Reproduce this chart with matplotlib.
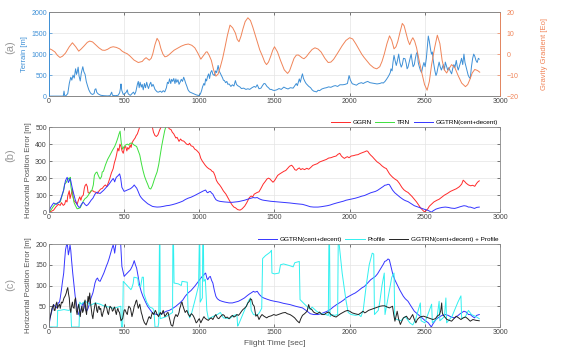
import matplotlib
matplotlib.use("Agg")
import matplotlib.pyplot as plt
import numpy as np

plt.rcParams['font.family'] = ['Liberation Sans', 'DejaVu Sans']

# ---------------- data (time [sec], value) ----------------
terrain = [(0, 0), (50, 0), (95, 0), (100, 120), (104, 20), (110, 0), (125, 60), (135, 300), (145, 450),
           (152, 380), (160, 500), (168, 430), (177, 650), (183, 520), (187, 560), (194, 690), (200, 480),
           (208, 360), (215, 550), (225, 700), (232, 580), (240, 520), (248, 350), (256, 250), (265, 150),
           (275, 80), (281, 55), (290, 40), (300, 60), (306, 160), (312, 175), (318, 90), (325, 60), (333, 40),
           (345, 20), (365, 10), (390, 5), (406, 10), (412, 60), (417, 95), (422, 20), (440, 10), (460, 20),
           (470, 80), (476, 200), (479, 290), (484, 140), (494, 40), (505, 60), (515, 100), (521, 150),
           (526, 60), (535, 30), (542, 20), (552, 60), (562, 95), (570, 40), (578, 110), (583, 200), (588, 280),
           (594, 350), (600, 200), (606, 330), (614, 215), (620, 280), (627, 150), (635, 300), (642, 200),
           (650, 330), (656, 240), (662, 180), (670, 280), (677, 330), (684, 230), (692, 280), (698, 230),
           (705, 160), (712, 130), (720, 100), (729, 95), (740, 120), (750, 90), (760, 130), (770, 100),
           (781, 200), (788, 330), (795, 300), (802, 410), (810, 300), (816, 400), (823, 350), (830, 420),
           (838, 300), (844, 410), (850, 330), (858, 390), (865, 280), (872, 330), (880, 400), (888, 350),
           (896, 450), (903, 380), (910, 300), (917, 235), (925, 150), (935, 100), (948, 80), (960, 60),
           (979, 30), (990, 20), (1000, 15), (1008, 60), (1015, 130), (1021, 215), (1030, 300), (1036, 260),
           (1042, 410), (1048, 360), (1055, 470), (1062, 530), (1068, 420), (1075, 560), (1083, 610),
           (1090, 520), (1100, 490), (1108, 600), (1115, 560), (1125, 730), (1132, 600), (1140, 540),
           (1146, 490), (1155, 430), (1160, 380), (1167, 370), (1175, 320), (1183, 350), (1190, 280),
           (1198, 290), (1210, 230), (1220, 270), (1230, 240), (1240, 370), (1247, 280), (1255, 250),
           (1265, 230), (1271, 215), (1280, 180), (1295, 190), (1310, 160), (1323, 175), (1335, 160),
           (1350, 200), (1365, 230), (1375, 210), (1385, 270), (1397, 175), (1410, 190), (1420, 250),
           (1430, 300), (1438, 295), (1450, 230), (1460, 200), (1470, 160), (1479, 160), (1490, 140),
           (1500, 135), (1515, 150), (1530, 180), (1545, 160), (1562, 215), (1575, 190), (1590, 170),
           (1605, 200), (1624, 190), (1635, 250), (1645, 300), (1652, 250), (1660, 350), (1665, 410),
           (1672, 330), (1680, 460), (1686, 530), (1693, 420), (1702, 350), (1710, 300), (1720, 260),
           (1727, 235), (1740, 200), (1750, 150), (1760, 120), (1769, 110), (1780, 100), (1790, 140),
           (1800, 130), (1815, 170), (1831, 190), (1845, 200), (1860, 220), (1875, 210), (1893, 240),
           (1905, 250), (1920, 230), (1935, 270), (1955, 270), (1970, 280), (1985, 300), (1996, 490),
           (2005, 380), (2017, 295), (2030, 280), (2045, 260), (2060, 300), (2078, 320), (2090, 300),
           (2105, 330), (2120, 350), (2135, 320), (2150, 310), (2165, 300), (2182, 290), (2200, 300),
           (2215, 320), (2223, 310), (2235, 350), (2245, 400), (2254, 450), (2262, 500), (2270, 560),
           (2275, 650), (2282, 600), (2288, 800), (2295, 970), (2302, 850), (2310, 730), (2318, 850),
           (2326, 1000), (2334, 800), (2343, 690), (2350, 750), (2358, 900), (2368, 890), (2376, 780),
           (2382, 650), (2388, 690), (2395, 800), (2402, 900), (2409, 1000), (2416, 820), (2422, 700),
           (2430, 750), (2437, 900), (2443, 1000), (2450, 1050), (2456, 800), (2463, 700), (2471, 610),
           (2478, 560), (2486, 700), (2494, 800), (2502, 700), (2510, 900), (2517, 1200), (2523, 1430),
           (2530, 1300), (2537, 1130), (2544, 1000), (2550, 1050), (2554, 900), (2560, 750), (2567, 600),
           (2574, 490), (2580, 550), (2588, 700), (2595, 810), (2602, 700), (2610, 620), (2616, 680),
           (2623, 750), (2630, 620), (2636, 810), (2645, 700), (2652, 620), (2660, 680), (2668, 600),
           (2678, 530), (2685, 650), (2693, 750), (2700, 680), (2709, 850), (2716, 700), (2722, 620),
           (2729, 700), (2737, 800), (2744, 900), (2752, 750), (2760, 1000), (2767, 800), (2774, 700),
           (2781, 600), (2788, 500), (2795, 450), (2802, 420), (2810, 700), (2818, 900), (2825, 1000),
           (2832, 950), (2840, 850), (2848, 800), (2856, 900), (2862, 880)]

gravity = [(0, 2.7), (20, 2.0), (40, 1.0), (55, -0.5), (73, -1.6), (90, -1.0), (110, 0.5), (135, 3.5),
           (156, 5.4), (178, 3.5), (198, 1.4), (215, 2.5), (235, 4), (255, 5.6), (271, 6.2), (290, 5.8),
           (310, 4.5), (332, 3.0), (354, 1.9), (372, 1.8), (390, 2.3), (410, 3.2), (427, 3.5), (448, 3.2),
           (470, 2.5), (485, 1.5), (500, 0.8), (520, 0.2), (540, -1), (565, -2.8), (594, -4), (620, -3.5),
           (635, -2.3), (646, -1.7), (655, -2.2), (667, -2.9), (680, -2.0), (690, 0), (705, 4.5), (719, 7.5),
           (732, 6.0), (745, 2.5), (758, 0), (771, -1.3), (785, -1.0), (800, -0.2), (815, 0.8), (833, 1.9),
           (855, 2.8), (880, 3.8), (905, 4.5), (927, 4.8), (950, 4.2), (970, 3), (990, 0.5), (1010, -2.4),
           (1030, -0.5), (1045, 1.0), (1052, 1.1), (1065, -0.5), (1080, -3), (1095, -7.5), (1110, -10.5),
           (1125, -9.5), (1140, -6), (1155, -2), (1170, 3), (1187, 9), (1204, 13.8), (1222, 12.5),
           (1240, 10), (1252, 7), (1264, 5.9), (1277, 8.5), (1290, 12), (1305, 15.5), (1323, 17.3),
           (1340, 16), (1355, 13), (1370, 9.5), (1385, 5.9), (1402, 2), (1420, -1), (1435, -3.8),
           (1447, -5), (1460, -3.8), (1475, -1), (1488, 1.8), (1500, 3.5), (1520, 1), (1540, -3),
           (1565, -7.5), (1587, -9.2), (1600, -8), (1615, -5), (1630, -2), (1645, -0.5), (1658, -0.4),
           (1670, -1), (1684, -1.8), (1696, -2.2), (1712, -1.2), (1730, 0.5), (1750, 2.2), (1769, 3),
           (1790, 2.4), (1810, 1), (1835, -2), (1857, -4), (1875, -3.8), (1893, -2.5), (1920, 0.5),
           (1950, 4), (1975, 6.5), (2000, 7.8), (2020, 7.2), (2040, 5), (2060, 2.5), (2080, 0),
           (2095, -1.5), (2112, -3), (2135, -5), (2160, -6.5), (2180, -7), (2200, -6), (2215, -3.5),
           (2230, 0), (2248, 5), (2265, 8.7), (2280, 6.5), (2295, 2.5), (2308, 3.5), (2320, 6), (2335, 10.5),
           (2350, 14.6), (2362, 13.5), (2375, 10), (2388, 6.5), (2399, 4.5), (2410, 6.5), (2420, 7.8),
           (2432, 6.2), (2445, 3), (2462, -3), (2480, -9), (2498, -14.5), (2515, -17.2), (2530, -13),
           (2545, -5), (2565, 3), (2583, 9), (2600, 5), (2615, -3), (2630, -7.5), (2645, -9), (2660, -7),
           (2678, -5), (2700, -6.5), (2720, -10), (2745, -13.8), (2770, -15.5), (2785, -14.5), (2800, -12),
           (2815, -9), (2832, -7.3), (2850, -7.8), (2865, -8.6)]

ggrn = [(0, 0), (15, 5), (31, 12), (45, 30), (62, 46), (75, 40), (83, 56), (95, 40), (104, 46), (112, 70),
        (120, 60), (125, 96), (130, 110), (135, 126), (140, 80), (146, 100), (152, 120), (156, 136),
        (160, 90), (167, 66), (175, 60), (187, 46), (198, 76), (205, 90), (212, 70), (219, 92), (228, 100),
        (235, 140), (240, 156), (248, 165), (255, 150), (260, 116), (270, 110), (280, 125), (292, 126),
        (300, 120), (310, 118), (323, 110), (333, 125), (344, 136), (355, 140), (365, 152), (375, 160),
        (385, 150), (396, 176), (405, 200), (415, 230), (427, 256), (435, 290), (444, 316), (450, 340),
        (458, 376), (465, 360), (472, 400), (479, 386), (486, 360), (494, 346), (502, 380), (510, 386),
        (518, 360), (524, 380), (531, 370), (540, 395), (546, 380), (552, 406), (560, 420), (573, 436),
        (580, 450), (588, 460), (594, 476), (600, 490), (607, 510), (614, 520), (640, 540), (680, 530),
        (695, 470), (705, 450), (715, 445), (725, 455), (735, 480), (745, 500), (755, 520), (775, 520),
        (790, 505), (800, 490), (812, 485), (820, 470), (830, 460), (844, 436), (852, 440), (860, 425),
        (865, 416), (875, 430), (885, 420), (896, 418), (905, 410), (915, 400), (927, 396), (935, 405),
        (945, 390), (958, 386), (970, 370), (980, 365), (990, 356), (1000, 345), (1010, 316), (1020, 300),
        (1031, 286), (1040, 275), (1050, 265), (1062, 256), (1075, 250), (1085, 240), (1094, 236),
        (1104, 215), (1114, 186), (1125, 170), (1135, 160), (1146, 146), (1160, 125), (1177, 106),
        (1190, 85), (1200, 70), (1208, 56), (1220, 40), (1230, 30), (1240, 26), (1255, 15), (1271, 12),
        (1285, 20), (1302, 36), (1315, 55), (1333, 86), (1345, 95), (1355, 90), (1365, 106), (1385, 116),
        (1397, 120), (1410, 140), (1425, 165), (1438, 180), (1450, 195), (1460, 200), (1469, 196),
        (1480, 185), (1490, 176), (1500, 185), (1510, 200), (1521, 216), (1535, 225), (1548, 232),
        (1562, 240), (1575, 245), (1590, 260), (1600, 270), (1614, 276), (1625, 265), (1635, 250),
        (1645, 246), (1655, 255), (1665, 260), (1675, 250), (1686, 256), (1700, 250), (1715, 258),
        (1727, 252), (1740, 262), (1755, 275), (1769, 280), (1785, 285), (1800, 295), (1815, 300),
        (1831, 306), (1845, 310), (1860, 318), (1875, 320), (1893, 326), (1910, 330), (1922, 340),
        (1934, 346), (1945, 330), (1955, 322), (1965, 316), (1975, 322), (1985, 326), (1996, 320),
        (2010, 330), (2025, 332), (2040, 336), (2055, 338), (2070, 345), (2085, 350), (2100, 355),
        (2112, 360), (2120, 358), (2130, 345), (2140, 335), (2151, 326), (2165, 312), (2182, 296),
        (2200, 285), (2215, 272), (2230, 262), (2244, 256), (2255, 240), (2265, 225), (2275, 215),
        (2285, 206), (2300, 195), (2316, 186), (2330, 170), (2347, 146), (2360, 132), (2375, 122),
        (2388, 116), (2400, 105), (2415, 92), (2430, 76), (2445, 60), (2460, 40), (2471, 26), (2482, 15),
        (2492, 6), (2500, 2), (2507, 8), (2512, 12), (2520, 20), (2530, 35), (2543, 46), (2560, 60),
        (2580, 70), (2595, 76), (2610, 86), (2630, 100), (2650, 110), (2670, 122), (2690, 130),
        (2710, 138), (2730, 150), (2745, 165), (2755, 188), (2765, 180), (2775, 170), (2790, 160),
        (2805, 155), (2818, 158), (2832, 152), (2845, 170), (2855, 180), (2862, 184)]

trn = [(0, 0), (15, 15), (31, 36), (45, 50), (62, 55), (75, 60), (83, 85), (95, 120), (104, 165),
       (115, 175), (125, 195), (131, 200), (137, 185), (141, 205), (146, 150), (152, 120), (160, 90),
       (167, 56), (175, 40), (187, 20), (198, 22), (208, 26), (218, 45), (229, 66), (240, 80), (250, 86),
       (262, 100), (275, 120), (286, 130), (295, 160), (302, 216), (310, 230), (319, 236), (326, 220),
       (333, 206), (340, 195), (350, 210), (354, 236), (362, 240), (375, 276), (390, 310), (406, 336),
       (420, 360), (437, 386), (448, 410), (458, 436), (466, 460), (473, 476), (477, 440), (481, 406),
       (490, 370), (500, 386), (510, 395), (521, 400), (530, 395), (540, 405), (552, 406), (565, 395),
       (575, 390), (583, 386), (594, 360), (604, 336), (614, 290), (625, 246), (636, 210), (646, 186),
       (656, 165), (667, 140), (677, 136), (688, 156), (700, 190), (710, 215), (719, 236), (730, 280),
       (740, 336), (750, 390), (760, 436), (770, 480), (777, 500), (785, 520)]

ggtrn = [(0, 0), (5, 15), (10, 26), (20, 40), (31, 54), (40, 50), (48, 46), (55, 50), (62, 58), (70, 60),
         (75, 70), (83, 90), (90, 110), (98, 130), (104, 160), (110, 186), (115, 195), (121, 205),
         (125, 190), (129, 174), (135, 185), (140, 198), (145, 185), (150, 162), (158, 130), (167, 98),
         (174, 75), (181, 58), (190, 40), (198, 30), (205, 28), (212, 40), (219, 50), (226, 58), (233, 54),
         (240, 45), (250, 38), (260, 45), (271, 58), (280, 70), (292, 82), (300, 95), (306, 106),
         (315, 115), (323, 118), (330, 112), (340, 110), (350, 118), (358, 125), (365, 130), (375, 140),
         (383, 148), (390, 154), (400, 165), (410, 178), (418, 188), (427, 198), (432, 190), (437, 178),
         (443, 195), (448, 205), (460, 215), (470, 225), (477, 200), (482, 165), (485, 146), (492, 135),
         (500, 122), (510, 126), (521, 130), (531, 134), (542, 138), (552, 145), (560, 152), (567, 160),
         (575, 150), (583, 142), (594, 120), (604, 98), (614, 85), (625, 74), (640, 62), (656, 50),
         (672, 42), (688, 34), (700, 32), (719, 30), (740, 31), (760, 34), (781, 38), (800, 40), (820, 44),
         (844, 50), (870, 58), (890, 65), (906, 74), (925, 82), (945, 88), (969, 98), (990, 108),
         (1010, 118), (1025, 124), (1035, 128), (1042, 130), (1050, 118), (1056, 114), (1065, 120),
         (1073, 122), (1082, 112), (1090, 106), (1100, 88), (1110, 74), (1120, 68), (1135, 64),
         (1150, 62), (1170, 60), (1198, 58), (1220, 58), (1240, 60), (1260, 62), (1281, 66), (1300, 70),
         (1320, 76), (1335, 80), (1344, 82), (1360, 86), (1370, 84), (1385, 86), (1400, 78), (1417, 72),
         (1428, 70), (1450, 67), (1475, 64), (1500, 62), (1530, 60), (1560, 57), (1603, 54), (1640, 50),
         (1686, 46), (1710, 40), (1738, 32), (1760, 30), (1789, 30), (1810, 32), (1830, 35), (1851, 38),
         (1870, 42), (1890, 48), (1913, 54), (1940, 60), (1960, 65), (1975, 70), (2000, 75), (2020, 79),
         (2037, 82), (2060, 88), (2080, 94), (2099, 98), (2120, 106), (2140, 114), (2155, 118),
         (2171, 122), (2185, 128), (2202, 138), (2215, 146), (2225, 152), (2233, 158), (2245, 160),
         (2255, 164), (2264, 162), (2272, 150), (2280, 138), (2285, 130), (2300, 114), (2316, 102),
         (2335, 88), (2357, 74), (2370, 68), (2388, 62), (2405, 52), (2430, 38), (2455, 30), (2481, 22),
         (2500, 16), (2523, 10), (2535, 4), (2543, 0), (2555, 8), (2574, 18), (2595, 24), (2615, 28),
         (2636, 30), (2655, 28), (2675, 24), (2698, 22), (2715, 26), (2735, 32), (2760, 38), (2775, 36),
         (2790, 30), (2802, 30), (2815, 26), (2830, 22), (2845, 28), (2862, 30)]

profile = [(0, 0), (55, 0), (58, 40), (70, 40), (100, 42), (130, 40), (145, 42), (150, 0), (200, 0),
           (205, 60), (215, 55), (240, 62), (260, 58), (275, 52), (290, 55), (310, 58), (340, 55), (370, 50),
           (400, 48), (430, 45), (460, 48), (478, 50), (482, 0), (490, 0), (494, 110), (520, 100), (545, 90),
           (552, 95), (560, 105), (565, 120), (590, 118), (596, 100), (610, 98), (620, 120), (628, 120),
           (632, 80), (650, 60), (670, 48), (690, 45), (698, 40), (705, 0), (725, 0), (730, 10), (735, 210),
           (738, 210), (740, 20), (780, 25), (800, 30), (822, 35), (824, 210), (828, 210), (832, 106),
           (860, 104), (880, 100), (885, 110), (920, 108), (925, 40), (935, 22), (950, 35), (975, 70),
           (995, 100), (1000, 210), (1003, 210), (1006, 60), (1020, 70), (1023, 210), (1027, 210),
           (1030, 110), (1040, 115), (1050, 40), (1060, 20), (1090, 25), (1120, 30), (1140, 35), (1160, 22),
           (1200, 20), (1230, 28), (1250, 30), (1255, 2), (1260, 5), (1300, 40), (1330, 65), (1340, 70),
           (1345, 40), (1360, 30), (1385, 28), (1400, 35), (1415, 45), (1421, 165), (1440, 172),
           (1470, 180), (1480, 185), (1483, 130), (1500, 128), (1530, 130), (1540, 150), (1560, 152),
           (1580, 150), (1600, 148), (1624, 145), (1635, 155), (1665, 158), (1670, 66), (1700, 55),
           (1738, 42), (1750, 48), (1780, 38), (1810, 32), (1840, 30), (1858, 28), (1862, 210), (1866, 210),
           (1870, 25), (1880, 30), (1900, 28), (1920, 30), (1924, 210), (1930, 200), (1950, 130),
           (1975, 65), (1990, 35), (2010, 30), (2040, 28), (2060, 30), (2075, 25), (2090, 40), (2110, 100),
           (2130, 150), (2150, 178), (2160, 176), (2165, 30), (2190, 40), (2200, 60), (2215, 100),
           (2230, 130), (2235, 30), (2260, 80), (2280, 120), (2295, 130), (2300, 20), (2340, 15),
           (2370, 25), (2400, 10), (2420, 5), (2440, 20), (2470, 58), (2475, 15), (2500, 10), (2520, 30),
           (2545, 55), (2550, 10), (2580, 20), (2595, 62), (2600, 15), (2630, 25), (2640, 70), (2645, 10),
           (2680, 25), (2720, 60), (2740, 75), (2745, 20), (2770, 25), (2790, 40), (2810, 30), (2840, 25),
           (2862, 20)]

combined = [(0, 0), (5, 20), (10, 26), (20, 45), (30, 54), (35, 40), (40, 40), (47, 55), (52, 60), (57, 45),
            (62, 50), (70, 55), (75, 45), (83, 60), (90, 58), (100, 70), (108, 75), (115, 82), (120, 90),
            (125, 95), (130, 80), (135, 70), (140, 45), (145, 35), (150, 50), (156, 60), (160, 48), (167, 45),
            (172, 65), (177, 70), (182, 40), (187, 30), (192, 45), (198, 55), (203, 40), (208, 25), (213, 40),
            (219, 50), (224, 35), (229, 40), (235, 58), (240, 65), (245, 40), (250, 30), (255, 55), (260, 74),
            (265, 60), (271, 82), (276, 60), (281, 45), (286, 30), (292, 20), (297, 35), (302, 45), (308, 58),
            (313, 55), (318, 40), (323, 35), (328, 48), (333, 50), (338, 42), (344, 45), (349, 30), (354, 25),
            (360, 35), (365, 40), (370, 50), (375, 55), (380, 48), (385, 45), (390, 35), (396, 30), (401, 42),
            (406, 50), (411, 48), (417, 45), (422, 38), (427, 40), (432, 46), (437, 48), (442, 38), (448, 30),
            (453, 40), (458, 45), (463, 38), (469, 35), (474, 25), (479, 15), (484, 18), (490, 20), (495, 30),
            (500, 40), (505, 42), (510, 38), (516, 33), (521, 30), (526, 42), (531, 50), (536, 48), (542, 45),
            (547, 35), (552, 25), (557, 32), (562, 40), (567, 50), (573, 55), (578, 62), (583, 65), (588, 55),
            (594, 45), (599, 50), (604, 55), (609, 45), (614, 35), (620, 28), (625, 20), (630, 15), (635, 10),
            (640, 8), (646, 5), (651, 10), (656, 15), (662, 22), (667, 25), (672, 22), (677, 20), (682, 28),
            (688, 35), (693, 32), (698, 30), (703, 36), (708, 40), (714, 35), (719, 30), (724, 28), (729, 25),
            (735, 30), (740, 35), (745, 32), (750, 30), (755, 36), (760, 40), (766, 32), (771, 25), (776, 28),
            (781, 30), (786, 34), (792, 35), (797, 28), (802, 20), (807, 12), (812, 5), (818, 3), (823, 2),
            (828, 10), (833, 20), (838, 25), (844, 30), (849, 28), (854, 25), (860, 30), (865, 35), (870, 45),
            (875, 50), (880, 58), (885, 60), (890, 52), (896, 45), (901, 40), (906, 35), (912, 38), (917, 40),
            (922, 35), (927, 30), (932, 28), (937, 25), (943, 30), (948, 32), (953, 30), (958, 28), (964, 24),
            (969, 20), (974, 15), (979, 10), (985, 12), (990, 15), (995, 18), (1000, 20), (1005, 15),
            (1010, 10), (1016, 15), (1021, 18), (1026, 22), (1031, 25), (1036, 22), (1042, 20), (1050, 18),
            (1060, 16), (1070, 20), (1080, 22), (1090, 18), (1100, 25), (1110, 30), (1120, 22), (1130, 20),
            (1140, 25), (1156, 30), (1165, 28), (1175, 22), (1185, 24), (1198, 20), (1210, 25), (1220, 28),
            (1230, 24), (1240, 26), (1250, 30), (1260, 28), (1270, 32), (1281, 38), (1290, 42), (1300, 45),
            (1313, 50), (1323, 58), (1333, 62), (1340, 68), (1348, 66), (1355, 55), (1365, 50), (1376, 26),
            (1385, 30), (1397, 18), (1407, 25), (1417, 30), (1430, 26), (1448, 22), (1460, 25), (1479, 27),
            (1495, 30), (1510, 28), (1525, 30), (1541, 32), (1555, 34), (1572, 35), (1585, 32), (1603, 30),
            (1620, 26), (1634, 22), (1650, 15), (1665, 10), (1675, 20), (1686, 28), (1700, 32), (1717, 38),
            (1727, 54), (1735, 45), (1748, 42), (1760, 36), (1769, 34), (1785, 32), (1800, 36), (1815, 30),
            (1831, 30), (1845, 34), (1862, 36), (1875, 30), (1893, 26), (1910, 24), (1924, 28), (1940, 32),
            (1955, 35), (1970, 38), (1986, 40), (2000, 38), (2017, 34), (2035, 32), (2058, 30), (2075, 34),
            (2089, 38), (2100, 34), (2110, 36), (2125, 40), (2140, 42), (2155, 44), (2171, 46), (2185, 48),
            (2202, 50), (2218, 51), (2233, 51), (2250, 48), (2264, 46), (2275, 48), (2285, 50), (2293, 30),
            (2301, 14), (2308, 25), (2316, 38), (2325, 20), (2337, 6), (2347, 14), (2357, 22), (2367, 24),
            (2378, 26), (2388, 20), (2399, 18), (2409, 24), (2419, 30), (2430, 18), (2440, 10), (2450, 18),
            (2461, 22), (2475, 25), (2492, 26), (2508, 24), (2523, 22), (2538, 20), (2554, 18), (2570, 20),
            (2585, 27), (2598, 30), (2606, 40), (2612, 58), (2616, 35), (2620, 30), (2633, 24), (2647, 18),
            (2662, 16), (2678, 14), (2693, 20), (2709, 26), (2725, 22), (2740, 18), (2755, 22), (2771, 24),
            (2785, 20), (2802, 14), (2820, 18), (2840, 16), (2862, 15)]

x_ticks = [0, 500, 1000, 1500, 2000, 2500, 3000]

# colours
c_terrain = '#3d8fd6'
c_grav = '#f08458'
c_red = '#ff2a2a'
c_green = '#3de03d'
c_blue = '#3535ff'
c_cyan = '#30f0f0'
c_black = '#222222'
c_txt = '#555555'


def xy(series):
    a = np.array(series, dtype=float)
    return a[:, 0], a[:, 1]


def style(ax, right=True):
    ax.set_xlim(0, 3000)
    ax.set_xticks(x_ticks)
    ax.tick_params(direction='in', length=2.2, width=0.5, labelsize=5, colors='#444444',
                   top=True, right=right, pad=1.5)
    ax.grid(True, color='#e4e4e4', lw=0.5)
    ax.set_axisbelow(True)
    for s in ax.spines.values():
        s.set_color('#888888')
        s.set_linewidth(0.6)


def legend_above(ax):
    ax.legend(loc='lower right', bbox_to_anchor=(1.0, 1.0), ncol=3, frameon=False, fontsize=4.6,
              handlelength=3.0, columnspacing=0.6, handletextpad=0.4, borderaxespad=0.1, borderpad=0.2)


fig = plt.figure(figsize=(5.61, 3.56), dpi=100)
L, W = 0.0873, 0.804

# ---------------- (a) ----------------
ax1 = fig.add_axes([L, 0.730, W, 0.236])
style(ax1, right=False)
t, v = xy(terrain)
ax1.plot(t, v, color=c_terrain, lw=0.7)
ax1.set_ylim(0, 2000)
ax1.set_yticks([0, 500, 1000, 1500, 2000])
ax1.tick_params(axis='y', colors=c_terrain)
ax1.set_ylabel('Terrain [m]', fontsize=5.5, color=c_terrain, labelpad=2)
ax1.spines['left'].set_color(c_terrain)

ax1r = ax1.twinx()
t, v = xy(gravity)
ax1r.plot(t, v, color=c_grav, lw=0.7)
ax1r.set_ylim(-20, 20)
ax1r.set_yticks([-20, -10, 0, 10, 20])
ax1r.tick_params(direction='in', length=2.2, width=0.5, labelsize=5, colors=c_grav, pad=5)
ax1r.set_ylabel('Gravity Gradient [Eo]', fontsize=5.5, color=c_grav, labelpad=16)
for s in ax1r.spines.values():
    s.set_linewidth(0.6)
    s.set_color('#888888')
ax1r.spines['right'].set_color(c_grav)
ax1r.spines['left'].set_color(c_terrain)

# ---------------- (b) ----------------
ax2 = fig.add_axes([L, 0.404, W, 0.239])
style(ax2)
t, v = xy(ggrn)
ax2.plot(t, v, color=c_red, lw=0.7, label='GGRN')
t, v = xy(trn)
ax2.plot(t, v, color=c_green, lw=0.7, label='TRN')
t, v = xy(ggtrn)
ax2.plot(t, v, color=c_blue, lw=0.7, label='GGTRN(cent+decent)')
ax2.set_ylim(0, 500)
ax2.set_yticks([0, 100, 200, 300, 400, 500])
ax2.set_ylabel('Horizontal Position Error [m]', fontsize=5.5, color=c_txt, labelpad=2)
legend_above(ax2)

# ---------------- (c) ----------------
ax3 = fig.add_axes([L, 0.0815, W, 0.233])
style(ax3)
t, v = xy(ggtrn)
ax3.plot(t, v, color=c_blue, lw=0.7, label='GGTRN(cent+decent)')
t, v = xy(profile)
ax3.plot(t, v, color=c_cyan, lw=0.7, label='Profile')
t, v = xy(combined)
ax3.plot(t, v, color=c_black, lw=0.7, label='GGTRN(cent+decent) + Profile')
ax3.set_ylim(0, 200)
ax3.set_yticks([0, 50, 100, 150, 200])
ax3.set_ylabel('Horizontal Position Error [m]', fontsize=5.5, color=c_txt, labelpad=2)
ax3.set_xlabel('Flight Time [sec]', fontsize=6, color=c_txt, labelpad=3)
legend_above(ax3)

# panel labels
for y, lab in [(0.868, '(a)'), (0.565, '(b)'), (0.2, '(c)')]:
    fig.text(0.018, y, lab, rotation=90, fontsize=8, color='#999999', va='center', ha='center')

fig.savefig('out.png', dpi=100)
